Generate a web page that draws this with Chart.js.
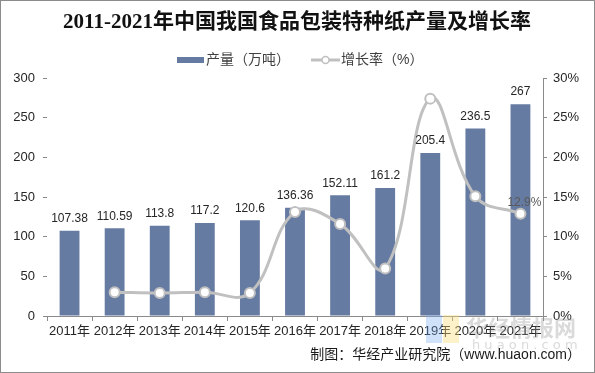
<!DOCTYPE html>
<html>
<head>
<meta charset="utf-8">
<script src="https://cdn.jsdelivr.net/npm/chart.js@4/dist/chart.umd.min.js"></script>
<style>
  html, body { margin: 0; padding: 0; background: #fff; }
  #wrap { width: 595px; height: 373px; }
</style>
</head>
<body>
<div id="wrap"><canvas id="chart" width="595" height="373"></canvas></div>
<script>
const years = ['2011年', '2012年', '2013年', '2014年', '2015年', '2016年', '2017年', '2018年', '2019年', '2020年', '2021年'];
const output = [107.38, 110.59, 113.8, 117.2, 120.6, 136.36, 152.11, 161.2, 205.4, 236.5, 267];
const growth = [null, 3.0, 2.9, 3.0, 2.9, 13.1, 11.6, 6.0, 27.4, 15.1, 12.9];
const outputLabels = ['107.38', '110.59', '113.8', '117.2', '120.6', '136.36', '152.11', '161.2', '205.4', '236.5', '267'];
const growthLabels = [null, null, null, null, null, null, null, null, null, null, '12.9%'];

const TITLE = '2011-2021年中国我国食品包装特种纸产量及增长率';
const SOURCE = '制图：华经产业研究院（www.huaon.com）';
const BAR_COLOR = '#667ba2';
const LINE_COLOR = '#c0c0c0';
const AXIS_COLOR = '#8a8a8a';
const SANS = "Arial, 'Liberation Sans', 'Noto Sans CJK SC', sans-serif";

// title, legend, source line and frame
const decor = {
  id: 'decor',
  beforeDraw(chart) {
    const ctx = chart.ctx;
    ctx.save();
    ctx.fillStyle = '#fff';
    ctx.fillRect(0, 0, chart.width, chart.height);
    ctx.restore();
  },
  afterDraw(chart) {
    const ctx = chart.ctx;
    ctx.save();
    ctx.strokeStyle = '#8c8c8c';
    ctx.lineWidth = 1;
    ctx.strokeRect(0.5, 0.5, chart.width - 1, chart.height - 1);

    ctx.fillStyle = '#111';
    ctx.font = "bold 21px 'Liberation Serif', 'Noto Sans CJK SC', serif";
    ctx.textAlign = 'center';
    ctx.textBaseline = 'middle';
    ctx.fillText(TITLE, 297, 23);

    // legend
    const ds = chart.data.datasets;
    ctx.font = "14px 'Liberation Sans', 'Noto Sans CJK SC', sans-serif";
    ctx.textAlign = 'left';
    ctx.fillStyle = ds[0].backgroundColor;
    ctx.fillRect(177, 57, 27, 6);
    ctx.fillStyle = '#404040';
    ctx.fillText(ds[0].label, 206, 60);
    ctx.strokeStyle = ds[1].borderColor;
    ctx.lineWidth = 3;
    ctx.beginPath();
    ctx.moveTo(311, 60);
    ctx.lineTo(340, 60);
    ctx.stroke();
    ctx.beginPath();
    ctx.arc(325.5, 60, 3.5, 0, Math.PI * 2);
    ctx.fillStyle = '#fff';
    ctx.fill();
    ctx.lineWidth = 1.5;
    ctx.stroke();
    ctx.fillStyle = '#404040';
    ctx.fillText(ds[1].label, 341, 60);

    // watermark
    ctx.fillStyle = 'rgba(120, 170, 240, 0.35)';
    ctx.fillRect(426, 315, 16, 28);
    ctx.fillStyle = 'rgba(250, 220, 120, 0.4)';
    ctx.fillRect(443, 315, 16, 28);
    ctx.fillStyle = 'rgba(150, 150, 150, 0.35)';
    ctx.font = "bold 22px 'Noto Sans CJK SC', sans-serif";
    ctx.fillText('华经情报网', 466, 328);
    ctx.font = "13px 'DejaVu Sans', sans-serif";
    ctx.fillText('h u a o n . c o m', 472, 346);

    ctx.fillStyle = '#1a1a1a';
    ctx.font = "14px 'Liberation Sans', 'Noto Sans CJK SC', sans-serif";
    ctx.textAlign = 'right';
    ctx.fillText(SOURCE, 581, 355);
    ctx.restore();
  }
};

// value labels
const valueLabels = {
  id: 'valueLabels',
  afterDatasetsDraw(chart) {
    const ctx = chart.ctx;
    ctx.save();
    ctx.textAlign = 'center';
    ctx.textBaseline = 'middle';
    ctx.font = '12px ' + SANS;
    ctx.fillStyle = '#262626';
    chart.getDatasetMeta(0).data.forEach((el, i) => {
      ctx.fillText(outputLabels[i], el.x, el.y - 12);
    });
    ctx.fillStyle = '#595959';
    chart.getDatasetMeta(1).data.forEach((el, i) => {
      if (growthLabels[i]) ctx.fillText(growthLabels[i], el.x + 4, el.y - 11);
    });
    ctx.restore();
  }
};

new Chart(document.getElementById('chart'), {
  data: {
    labels: years,
    datasets: [
      {
        type: 'bar',
        label: '产量（万吨）',
        data: output,
        backgroundColor: BAR_COLOR,
        yAxisID: 'y',
        barPercentage: 0.44,
        categoryPercentage: 1,
        order: 2
      },
      {
        type: 'line',
        label: '增长率（%）',
        data: growth,
        borderColor: LINE_COLOR,
        borderWidth: 3,
        tension: 0.4,
        pointRadius: 5,
        pointBackgroundColor: '#fff',
        pointBorderColor: LINE_COLOR,
        pointBorderWidth: 2,
        yAxisID: 'y1',
        order: 1
      }
    ]
  },
  options: {
    responsive: false,
    animation: false,
    layout: { padding: { top: 78, left: 0, right: 0, bottom: 0 } },
    plugins: { legend: { display: false }, title: { display: false }, tooltip: { enabled: false } },
    scales: {
      x: {
        offset: true,
        grid: { offset: true, drawOnChartArea: false, drawTicks: true, tickLength: 5, color: AXIS_COLOR },
        border: { display: true, color: AXIS_COLOR },
        ticks: { color: '#262626', font: { size: 13, family: SANS }, padding: 3, maxRotation: 0, autoSkip: false },
        afterFit: s => { s.height = 57; }
      },
      y: {
        position: 'left',
        min: 0, max: 300,
        grid: { drawOnChartArea: false, drawTicks: true, tickLength: 4, color: AXIS_COLOR },
        border: { display: false },
        ticks: { stepSize: 50, color: '#262626', font: { size: 13, family: SANS }, padding: 8 },
        afterFit: s => { s.width = 47; }
      },
      y1: {
        position: 'right',
        min: 0, max: 30,
        grid: { drawOnChartArea: false, drawTicks: true, tickLength: 4, color: AXIS_COLOR },
        border: { display: true, color: AXIS_COLOR },
        ticks: { stepSize: 5, color: '#262626', font: { size: 13, family: SANS }, padding: 6, callback: v => v + '%' },
        afterFit: s => { s.width = 52; }
      }
    }
  },
  plugins: [decor, valueLabels]
});
</script>
</body>
</html>
